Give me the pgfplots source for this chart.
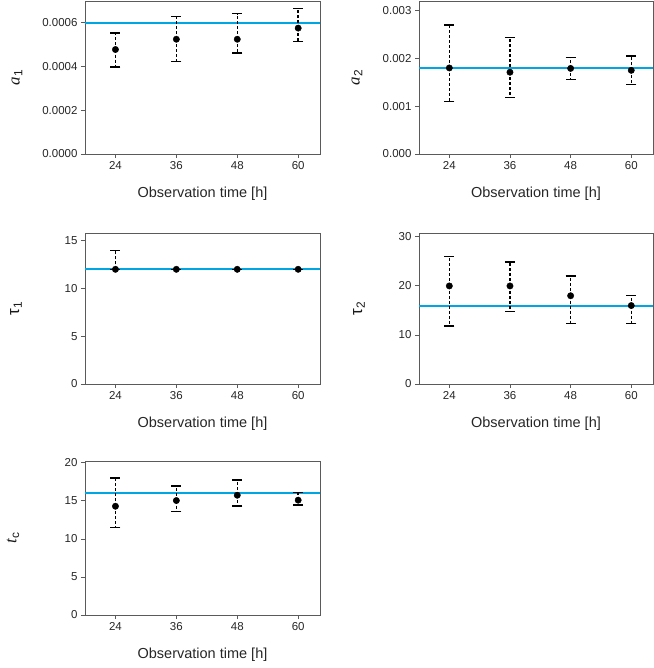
\documentclass[border=0pt]{standalone}
\usepackage{pgfplots}
\usepackage{pgfplotstable}
\pgfplotsset{compat=1.18}
\usepackage{fontspec}
\setmainfont{Liberation Sans}
\newfontfamily\serif{Liberation Serif}
\definecolor{axgray}{RGB}{90,90,90}

\pgfplotstableread{
x y ep em
24 0.000478 0.000076 0.000080
36 0.000525 0.000103 0.000101
48 0.000525 0.000117 0.000063
60 0.000576 0.000091 0.000061
}\tA
\pgfplotstableread{
x y ep em
24 0.00180 0.00090 0.00070
36 0.00171 0.00073 0.00053
48 0.00179 0.00023 0.00023
60 0.00175 0.00030 0.00030
}\tB
\pgfplotstableread{
x y ep em
24 12 2 0
36 12 0 0
48 12 0 0
60 12 0 0
}\tC
\pgfplotstableread{
x y ep em
24 20 6.0 8.2
36 20 4.9 5.2
48 18 4.0 5.6
60 16 2.1 3.6
}\tD
\pgfplotstableread{
x y ep em
24 14.30 3.70 2.75
36 15.05 1.90 1.40
48 15.75 2.00 1.40
60 15.10 1.00 0.65
}\tE

\pgfplotsset{
  panel/.style={
    scale only axis,
    anchor=south west,
    width=235bp,
    xmin=18, xmax=64.3, ymin=0,
    xtick={24,36,48,60},
    tick align=outside,
    tick pos=left,
    major tick length=4bp,
    axis line style={axgray, line width=0.9bp},
    every tick/.style={axgray, line width=0.9bp},
    tick label style={font=\fontsize{11.5bp}{13bp}\selectfont, text=black!85},
    /pgf/number format/assume math mode=true,
    scaled y ticks=false,
    xlabel={Observation time [h]},
    every axis x label/.style={at={(axis description cs:0.5,0)}, anchor=center, yshift=-40bp, font=\fontsize{14.5bp}{16bp}\selectfont, text=black!85},
    every axis y label/.style={at={(axis description cs:0,0.5)}, rotate=90, anchor=center, font=\fontsize{17bp}{19bp}\selectfont, text=black!90},
    clip=true,
  },
  errpts/.style={
    color=black, mark=*, mark size=3.2bp, only marks,
    mark options={solid, fill=black},
    error bars/.cd, y dir=both, y explicit,
    error bar style={black, line width=1.4bp, dash pattern=on 3bp off 2bp},
    error mark options={rotate=90, solid, black, line width=1.3bp, mark size=5bp},
  },
  hline/.style={color={rgb,255:red,0;green,166;blue,228}, line width=2bp, forget plot},
}

\begin{document}
\begin{tikzpicture}
\path[use as bounding box] (0,0) rectangle (654bp,668bp);

% Panel a1
\begin{axis}[panel, at={(85bp,514bp)}, height=153bp,
  ymax=0.0007, ytick={0,0.0002,0.0004,0.0006},
  yticklabel style={/pgf/number format/.cd, fixed, fixed zerofill, precision=4},
  ylabel={{\serif\itshape a}\textsubscript{1}},
  ylabel style={yshift=68bp}]
\addplot[hline] coordinates {(18,0.0006) (64.3,0.0006)};
\addplot[errpts] table[x=x, y=y, y error plus=ep, y error minus=em] {\tA};
\end{axis}

% Panel a2
\begin{axis}[panel, at={(419bp,514bp)}, height=153bp, width=234bp,
  ymax=0.0032, ytick={0,0.001,0.002,0.003},
  yticklabel style={/pgf/number format/.cd, fixed, fixed zerofill, precision=3},
  ylabel={{\serif\itshape a}\textsubscript{2}},
  ylabel style={yshift=62bp}]
\addplot[hline] coordinates {(18,0.0018) (64.3,0.0018)};
\addplot[errpts] table[x=x, y=y, y error plus=ep, y error minus=em] {\tB};
\end{axis}

% Panel tau1
\begin{axis}[panel, at={(85bp,284bp)}, height=151bp,
  ymax=15.8, ytick={0,5,10,15},
  ylabel={τ\textsubscript{1}},
  ylabel style={yshift=69bp}]
\addplot[hline] coordinates {(18,12) (64.3,12)};
\addplot[errpts] table[x=x, y=y, y error plus=ep, y error minus=em] {\tC};
\end{axis}

% Panel tau2
\begin{axis}[panel, at={(419bp,284bp)}, height=151bp, width=234bp,
  ymax=30.8, ytick={0,10,20,30},
  ylabel={τ\textsubscript{2}},
  ylabel style={yshift=60bp}]
\addplot[hline] coordinates {(18,16) (64.3,16)};
\addplot[errpts] table[x=x, y=y, y error plus=ep, y error minus=em] {\tD};
\end{axis}

% Panel tc
\begin{axis}[panel, at={(85bp,53bp)}, height=154bp,
  ymax=20.25, ytick={0,5,10,15,20},
  ylabel={{\serif\itshape t}\textsubscript{c}},
  ylabel style={yshift=72bp}]
\addplot[hline] coordinates {(18,16) (64.3,16)};
\addplot[errpts] table[x=x, y=y, y error plus=ep, y error minus=em] {\tE};
\end{axis}
\end{tikzpicture}
\end{document}
